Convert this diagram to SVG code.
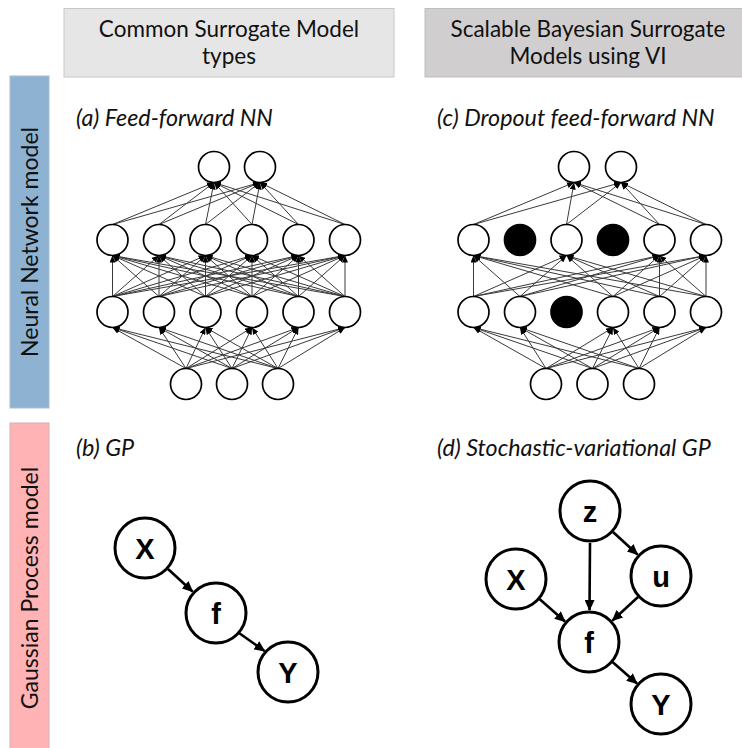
<svg xmlns="http://www.w3.org/2000/svg" width="742" height="748" viewBox="0 0 742 748">
<style>
.hdr{font-family:Lato,"Open Sans","Liberation Sans",sans-serif;font-size:22.5px;fill:#111;text-anchor:middle}
.side{font-family:Lato,"Open Sans","Liberation Sans",sans-serif;font-size:23px;fill:#111;text-anchor:middle}
.sub{font-family:Lato,"Open Sans","Liberation Sans",sans-serif;font-size:23.3px;font-style:italic;fill:#111}
.n{fill:#fff;stroke:#000;stroke-width:1.7}
.d{fill:#000;stroke:#000;stroke-width:1.7}
.c line{stroke:#3a3a3a;stroke-width:1;marker-end:url(#ah)}
.g{fill:#fff;stroke:#000;stroke-width:3}
.gl{font-family:"Liberation Sans",Arial,sans-serif;font-weight:bold;font-size:29px;fill:#000;text-anchor:middle}
.ge line{stroke:#000;stroke-width:2.6;marker-end:url(#gh)}
</style>
<defs>
<marker id="ah" markerUnits="userSpaceOnUse" markerWidth="7" markerHeight="6" refX="7" refY="3" orient="auto"><path d="M0,0 L7,3 L0,6 z" fill="#000"/></marker>
<marker id="gh" markerUnits="userSpaceOnUse" markerWidth="11" markerHeight="10" refX="10" refY="5" orient="auto"><path d="M0,0 L11,5 L0,10 z" fill="#000"/></marker>
</defs>

<g id="header-common">
<rect x="64" y="8.5" width="330" height="68.5" fill="#e7e6e6" stroke="#c8c8c8" stroke-width="1"/>
<text class="hdr" x="229" y="37">Common Surrogate Model</text>
<text class="hdr" x="229" y="64">types</text>
</g>
<g id="header-scalable">
<rect x="425" y="8.5" width="330" height="68.5" fill="#d0cece" stroke="#bdbdbd" stroke-width="1"/>
<text class="hdr" x="588" y="37">Scalable Bayesian Surrogate</text>
<text class="hdr" x="588" y="64">Models using VI</text>
</g>
<g id="side-nn">
<rect x="10" y="76" width="39" height="332" fill="#8eb3d2" stroke="#a7bccf" stroke-width="1"/>
<text class="side" transform="translate(38,242) rotate(-90)">Neural Network model</text>
</g>
<g id="side-gp">
<rect x="10" y="423" width="39" height="326" fill="#ffb3b5" stroke="#d9b0b2" stroke-width="1"/>
<text class="side" transform="translate(38,588) rotate(-90)">Gaussian Process model</text>
</g>

<text class="sub" x="76" y="126">(a) Feed-forward NN</text>
<text class="sub" x="437" y="126">(c) Dropout feed-forward NN</text>
<text class="sub" x="76" y="456">(b) GP</text>
<text class="sub" x="437" y="456">(d) Stochastic-variational GP</text>

<g id="connectors-a" class="c">
<line x1="112.5" y1="224.5" x2="214" y2="182.5"/><line x1="112.5" y1="224.5" x2="260" y2="182.5"/>
<line x1="159" y1="224.5" x2="214" y2="182.5"/><line x1="159" y1="224.5" x2="260" y2="182.5"/>
<line x1="205.5" y1="224.5" x2="214" y2="182.5"/><line x1="205.5" y1="224.5" x2="260" y2="182.5"/>
<line x1="252" y1="224.5" x2="214" y2="182.5"/><line x1="252" y1="224.5" x2="260" y2="182.5"/>
<line x1="298.5" y1="224.5" x2="214" y2="182.5"/><line x1="298.5" y1="224.5" x2="260" y2="182.5"/>
<line x1="345" y1="224.5" x2="214" y2="182.5"/><line x1="345" y1="224.5" x2="260" y2="182.5"/>

<line x1="112.5" y1="296.5" x2="112.5" y2="255.5"/><line x1="112.5" y1="296.5" x2="159" y2="255.5"/><line x1="112.5" y1="296.5" x2="205.5" y2="255.5"/><line x1="112.5" y1="296.5" x2="252" y2="255.5"/><line x1="112.5" y1="296.5" x2="298.5" y2="255.5"/><line x1="112.5" y1="296.5" x2="345" y2="255.5"/>
<line x1="159" y1="296.5" x2="112.5" y2="255.5"/><line x1="159" y1="296.5" x2="159" y2="255.5"/><line x1="159" y1="296.5" x2="205.5" y2="255.5"/><line x1="159" y1="296.5" x2="252" y2="255.5"/><line x1="159" y1="296.5" x2="298.5" y2="255.5"/><line x1="159" y1="296.5" x2="345" y2="255.5"/>
<line x1="205.5" y1="296.5" x2="112.5" y2="255.5"/><line x1="205.5" y1="296.5" x2="159" y2="255.5"/><line x1="205.5" y1="296.5" x2="205.5" y2="255.5"/><line x1="205.5" y1="296.5" x2="252" y2="255.5"/><line x1="205.5" y1="296.5" x2="298.5" y2="255.5"/><line x1="205.5" y1="296.5" x2="345" y2="255.5"/>
<line x1="252" y1="296.5" x2="112.5" y2="255.5"/><line x1="252" y1="296.5" x2="159" y2="255.5"/><line x1="252" y1="296.5" x2="205.5" y2="255.5"/><line x1="252" y1="296.5" x2="252" y2="255.5"/><line x1="252" y1="296.5" x2="298.5" y2="255.5"/><line x1="252" y1="296.5" x2="345" y2="255.5"/>
<line x1="298.5" y1="296.5" x2="112.5" y2="255.5"/><line x1="298.5" y1="296.5" x2="159" y2="255.5"/><line x1="298.5" y1="296.5" x2="205.5" y2="255.5"/><line x1="298.5" y1="296.5" x2="252" y2="255.5"/><line x1="298.5" y1="296.5" x2="298.5" y2="255.5"/><line x1="298.5" y1="296.5" x2="345" y2="255.5"/>
<line x1="345" y1="296.5" x2="112.5" y2="255.5"/><line x1="345" y1="296.5" x2="159" y2="255.5"/><line x1="345" y1="296.5" x2="205.5" y2="255.5"/><line x1="345" y1="296.5" x2="252" y2="255.5"/><line x1="345" y1="296.5" x2="298.5" y2="255.5"/><line x1="345" y1="296.5" x2="345" y2="255.5"/>

<line x1="186" y1="368.5" x2="112.5" y2="327.5"/><line x1="186" y1="368.5" x2="159" y2="327.5"/><line x1="186" y1="368.5" x2="205.5" y2="327.5"/><line x1="186" y1="368.5" x2="252" y2="327.5"/><line x1="186" y1="368.5" x2="298.5" y2="327.5"/><line x1="186" y1="368.5" x2="345" y2="327.5"/>
<line x1="232" y1="368.5" x2="112.5" y2="327.5"/><line x1="232" y1="368.5" x2="159" y2="327.5"/><line x1="232" y1="368.5" x2="205.5" y2="327.5"/><line x1="232" y1="368.5" x2="252" y2="327.5"/><line x1="232" y1="368.5" x2="298.5" y2="327.5"/><line x1="232" y1="368.5" x2="345" y2="327.5"/>
<line x1="278" y1="368.5" x2="112.5" y2="327.5"/><line x1="278" y1="368.5" x2="159" y2="327.5"/><line x1="278" y1="368.5" x2="205.5" y2="327.5"/><line x1="278" y1="368.5" x2="252" y2="327.5"/><line x1="278" y1="368.5" x2="298.5" y2="327.5"/><line x1="278" y1="368.5" x2="345" y2="327.5"/>
</g>

<g id="nn-a">
<circle class="n" cx="214" cy="167" r="15.5"/><circle class="n" cx="260" cy="167" r="15.5"/>
<circle class="n" cx="112.5" cy="240" r="15.5"/><circle class="n" cx="159" cy="240" r="15.5"/><circle class="n" cx="205.5" cy="240" r="15.5"/><circle class="n" cx="252" cy="240" r="15.5"/><circle class="n" cx="298.5" cy="240" r="15.5"/><circle class="n" cx="345" cy="240" r="15.5"/>
<circle class="n" cx="112.5" cy="312" r="15.5"/><circle class="n" cx="159" cy="312" r="15.5"/><circle class="n" cx="205.5" cy="312" r="15.5"/><circle class="n" cx="252" cy="312" r="15.5"/><circle class="n" cx="298.5" cy="312" r="15.5"/><circle class="n" cx="345" cy="312" r="15.5"/>
<circle class="n" cx="186" cy="384" r="15.5"/><circle class="n" cx="232" cy="384" r="15.5"/><circle class="n" cx="278" cy="384" r="15.5"/>
</g>

<g id="connectors-c" class="c">
<line x1="473.5" y1="224.5" x2="574" y2="182.5"/><line x1="473.5" y1="224.5" x2="621" y2="182.5"/>
<line x1="566.5" y1="224.5" x2="574" y2="182.5"/><line x1="566.5" y1="224.5" x2="621" y2="182.5"/>
<line x1="659.5" y1="224.5" x2="574" y2="182.5"/><line x1="659.5" y1="224.5" x2="621" y2="182.5"/>
<line x1="706" y1="224.5" x2="574" y2="182.5"/><line x1="706" y1="224.5" x2="621" y2="182.5"/>

<line x1="473.5" y1="296.5" x2="473.5" y2="255.5"/><line x1="473.5" y1="296.5" x2="566.5" y2="255.5"/><line x1="473.5" y1="296.5" x2="659.5" y2="255.5"/><line x1="473.5" y1="296.5" x2="706" y2="255.5"/>
<line x1="520" y1="296.5" x2="473.5" y2="255.5"/><line x1="520" y1="296.5" x2="566.5" y2="255.5"/><line x1="520" y1="296.5" x2="659.5" y2="255.5"/><line x1="520" y1="296.5" x2="706" y2="255.5"/>
<line x1="613" y1="296.5" x2="473.5" y2="255.5"/><line x1="613" y1="296.5" x2="566.5" y2="255.5"/><line x1="613" y1="296.5" x2="659.5" y2="255.5"/><line x1="613" y1="296.5" x2="706" y2="255.5"/>
<line x1="659.5" y1="296.5" x2="473.5" y2="255.5"/><line x1="659.5" y1="296.5" x2="566.5" y2="255.5"/><line x1="659.5" y1="296.5" x2="659.5" y2="255.5"/><line x1="659.5" y1="296.5" x2="706" y2="255.5"/>
<line x1="706" y1="296.5" x2="473.5" y2="255.5"/><line x1="706" y1="296.5" x2="566.5" y2="255.5"/><line x1="706" y1="296.5" x2="659.5" y2="255.5"/><line x1="706" y1="296.5" x2="706" y2="255.5"/>

<line x1="546" y1="368.5" x2="473.5" y2="327.5"/><line x1="546" y1="368.5" x2="520" y2="327.5"/><line x1="546" y1="368.5" x2="613" y2="327.5"/><line x1="546" y1="368.5" x2="659.5" y2="327.5"/><line x1="546" y1="368.5" x2="706" y2="327.5"/>
<line x1="592.5" y1="368.5" x2="473.5" y2="327.5"/><line x1="592.5" y1="368.5" x2="520" y2="327.5"/><line x1="592.5" y1="368.5" x2="613" y2="327.5"/><line x1="592.5" y1="368.5" x2="659.5" y2="327.5"/><line x1="592.5" y1="368.5" x2="706" y2="327.5"/>
<line x1="639" y1="368.5" x2="473.5" y2="327.5"/><line x1="639" y1="368.5" x2="520" y2="327.5"/><line x1="639" y1="368.5" x2="613" y2="327.5"/><line x1="639" y1="368.5" x2="659.5" y2="327.5"/><line x1="639" y1="368.5" x2="706" y2="327.5"/>
</g>

<g id="nn-c">
<circle class="n" cx="574" cy="167" r="15.5"/><circle class="n" cx="621" cy="167" r="15.5"/>
<circle class="n" cx="473.5" cy="240" r="15.5"/><circle class="d" cx="520" cy="240" r="15.5"/><circle class="n" cx="566.5" cy="240" r="15.5"/><circle class="d" cx="613" cy="240" r="15.5"/><circle class="n" cx="659.5" cy="240" r="15.5"/><circle class="n" cx="706" cy="240" r="15.5"/>
<circle class="n" cx="473.5" cy="312" r="15.5"/><circle class="n" cx="520" cy="312" r="15.5"/><circle class="d" cx="566.5" cy="312" r="15.5"/><circle class="n" cx="613" cy="312" r="15.5"/><circle class="n" cx="659.5" cy="312" r="15.5"/><circle class="n" cx="706" cy="312" r="15.5"/>
<circle class="n" cx="546" cy="384" r="15.5"/><circle class="n" cx="592.5" cy="384" r="15.5"/><circle class="n" cx="639" cy="384" r="15.5"/>
</g>

<g id="connectors-gp" class="ge">
<line x1="168" y1="569" x2="192.5" y2="591.5"/>
<line x1="239" y1="633" x2="264.5" y2="651"/>
<line x1="590" y1="543" x2="589.5" y2="610"/>
<line x1="613" y1="532" x2="637.5" y2="554.5"/>
<line x1="638" y1="597" x2="612.5" y2="620.5"/>
<line x1="539.5" y1="599" x2="565" y2="621.5"/>
<line x1="612.5" y1="662" x2="637" y2="683.5"/>
</g>

<g id="gp-b-X"><circle class="g" cx="145" cy="548" r="30"/><text class="gl" x="145" y="558.5">X</text></g>
<g id="gp-b-f"><circle class="g" cx="216" cy="613" r="30"/><text class="gl" x="216" y="623.5">f</text></g>
<g id="gp-b-Y"><circle class="g" cx="288" cy="672" r="30"/><text class="gl" x="288" y="682.5">Y</text></g>

<g id="gp-d-z"><circle class="g" cx="590" cy="511" r="30"/><text class="gl" x="590" y="521.5">z</text></g>
<g id="gp-d-u"><circle class="g" cx="661" cy="576" r="30"/><text class="gl" x="661" y="586.5">u</text></g>
<g id="gp-d-X"><circle class="g" cx="516" cy="579" r="30"/><text class="gl" x="516" y="589.5">X</text></g>
<g id="gp-d-f"><circle class="g" cx="589" cy="642" r="30"/><text class="gl" x="589" y="652.5">f</text></g>
<g id="gp-d-Y"><circle class="g" cx="661" cy="704" r="30"/><text class="gl" x="661" y="714.5">Y</text></g>
</svg>
